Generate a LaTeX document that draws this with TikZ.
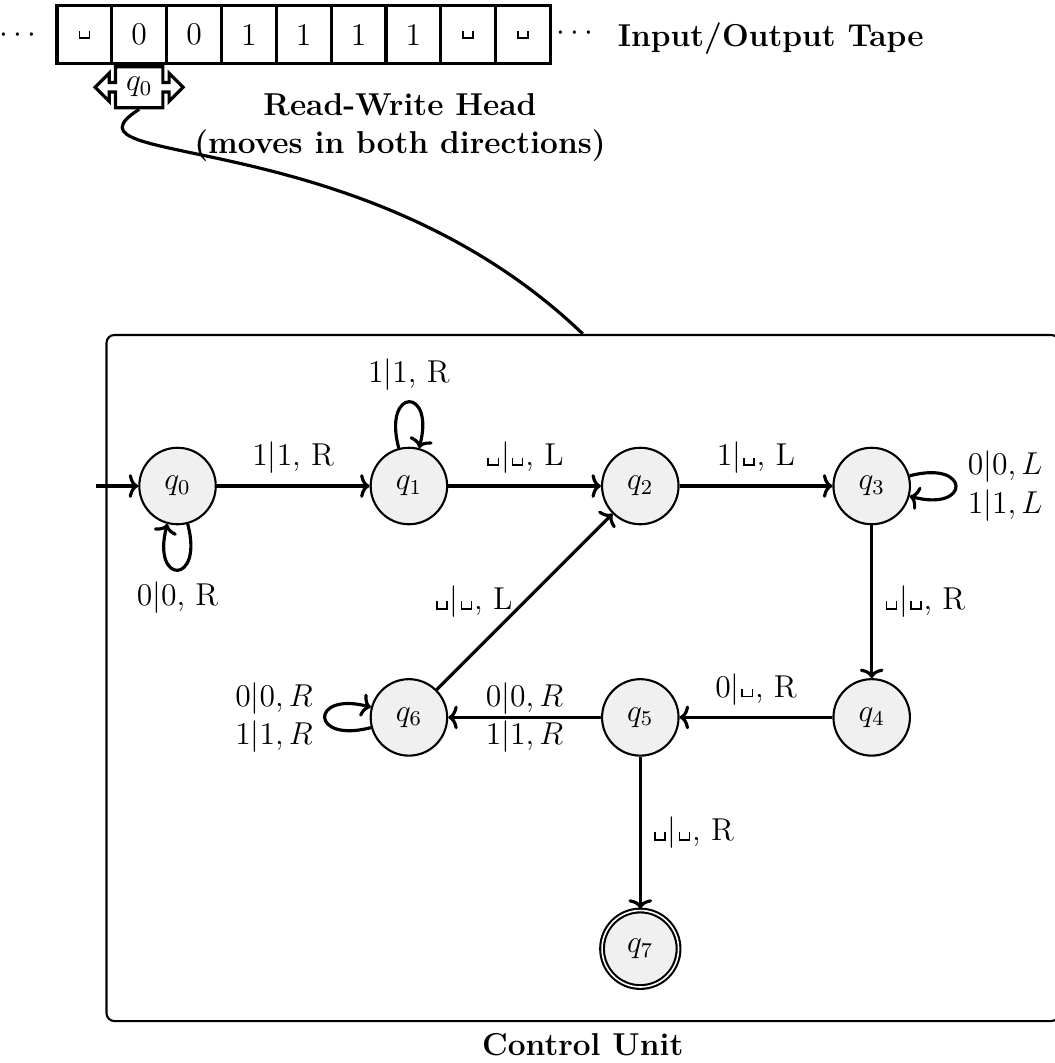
\documentclass[tikz,border=0pt,12pt]{standalone}
\usepackage{amsmath}
\usetikzlibrary{automata, positioning, shapes.arrows, arrows.meta}
\newcommand{\tmblank}{\mbox{\kern.06em\vrule height.6ex width.6pt\vbox{\hrule width.27em height.6pt}\vrule height.6ex width.6pt\kern.06em}}

\begin{document}
\begin{tikzpicture}[
    node distance=3.085cm, on grid,
    tmstate/.style={state, thick, fill=black!6, minimum size=1.02cm},
    tmcell/.style={rectangle, draw, very thick, minimum width=0.731cm, minimum height=0.77cm},
    tmhead/.style={arrow box, draw, very thick, fill=white, minimum size=.5cm,
                   arrow box arrows={east:.25cm, west:.25cm}},
    arr/.style={-{Computer Modern Rightarrow[length=3.6pt, width=9pt]}, very thick},
]
\useasboundingbox (0,0) rectangle (14.053,-14.173);

% tape
\node[tmcell] (c0) at (1.125,-0.464) {\tmblank};
\node[tmcell, right=0.731cm of c0] (c1) {0};
\node[tmcell, right=0.731cm of c1] (c2) {0};
\node[tmcell, right=0.731cm of c2] (c3) {1};
\node[tmcell, right=0.731cm of c3] (c4) {1};
\node[tmcell, right=0.731cm of c4] (c5) {1};
\node[tmcell, right=0.731cm of c5] (c6) {1};
\node[tmcell, right=0.731cm of c6] (c7) {\tmblank};
\node[tmcell, right=0.731cm of c7] (c8) {\tmblank};
\node (ldots) at (0.28,-0.47) {$\cdots$};
\node (rdots) at (7.70,-0.45) {$\cdots$};
\node[anchor=base west, inner sep=0pt, font=\bfseries] (tapelbl) at (8.23,-0.623) {Input/Output Tape};

% head
\node[tmhead, anchor=north] (head) at (c1.south) {$q_0$};
\node[align=center, font=\bfseries] (headlbl) at (5.333,-1.70) {Read-Write Head\\(moves in both directions)};

% control unit
\node[draw, thick, rounded corners=3pt, minimum width=12.7cm, minimum height=9.148cm] (cu) at (7.77,-9.04) {};
\node[anchor=north, font=\bfseries] (culbl) at (cu.south) {Control Unit};

\draw[very thick] (head.south) .. controls +(-1.25,-0.8) and +(-2.97,2.85) .. (cu.north);

% states
\node[tmstate] (q0) at (2.367,-6.48) {$q_0$};
\node[tmstate, right=of q0] (q1) {$q_1$};
\node[tmstate, right=of q1] (q2) {$q_2$};
\node[tmstate, right=of q2] (q3) {$q_3$};
\node[tmstate, below=of q3] (q4) {$q_4$};
\node[tmstate, left=of q4] (q5) {$q_5$};
\node[tmstate, left=of q5] (q6) {$q_6$};
\node[tmstate, accepting, below=of q5] (q7) {$q_7$};
\coordinate (start) at ([xshift=-0.565cm]q0.west);

% transitions
\draw[arr] (start) -- (q0);
\draw[arr] (q0) -- node[above] {$1|1$, R} (q1);
\draw[arr] (q0) to[loop below] node[below] {$0|0$, R} (q0);
\draw[arr] (q1) to[loop above] node[above] {$1|1$, R} (q1);
\draw[arr] (q1) -- node[above] {\tmblank$|$\tmblank, L} (q2);
\draw[arr] (q2) -- node[above] {$1|$\tmblank, L} (q3);
\draw[arr] (q3) to[loop right] node[right, align=center] {$0|0, L$\\$1|1, L$} (q3);
\draw[arr] (q3) -- node[right] {\tmblank$|$\tmblank, R} (q4);
\draw[arr] (q4) -- node[above] {$0|$\tmblank, R} (q5);
\draw[arr] (q5) -- node[align=center] {$0|0, R$\\$1|1, R$} (q6);
\draw[arr] (q6) to[loop left] node[left, align=center] {$0|0, R$\\$1|1, R$} (q6);
\draw[arr] (q6) -- node[left] {\tmblank$|$\tmblank, L} (q2);
\draw[arr] (q5) -- node[right] {\tmblank$|$\tmblank, R} (q7);

\end{tikzpicture}
\end{document}
